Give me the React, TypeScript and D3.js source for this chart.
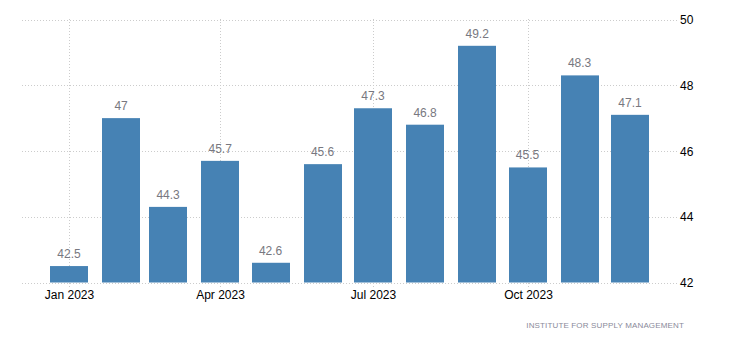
import { useRef, useEffect } from 'react';
import * as d3 from 'd3';

const months = [
  '2023-01-01', '2023-02-01', '2023-03-01', '2023-04-01', '2023-05-01', '2023-06-01',
  '2023-07-01', '2023-08-01', '2023-09-01', '2023-10-01', '2023-11-01', '2023-12-01',
];
const values = [42.5, 47, 44.3, 45.7, 42.6, 45.6, 47.3, 46.8, 49.2, 45.5, 48.3, 47.1];
const yTicks = [42, 44, 46, 48, 50];
const xTicks = ['2023-01-01', '2023-04-01', '2023-07-01', '2023-10-01'];
const source = 'INSTITUTE FOR SUPPLY MANAGEMENT';

const WIDTH = 730;
const HEIGHT = 351;
const BAR_W = 38;
const FONT = '"Liberation Sans", Arial, sans-serif';

export default function App() {
  const svgRef = useRef<SVGSVGElement>(null);

  useEffect(() => {
    const svg = d3.select(svgRef.current);
    svg.selectAll('*').remove();

    const parse = d3.utcParse('%Y-%m-%d');
    const x = d3
      .scaleUtc()
      .domain([parse('2022-12-04')!, parse('2023-12-29')!])
      .range([22, 677]);
    const y = d3.scaleLinear().domain([42, 50]).range([282.5, 19.5]);

    // Horizontal grid
    for (const t of yTicks) {
      svg
        .append('line')
        .attr('x1', 22)
        .attr('x2', 677)
        .attr('y1', Math.round(y(t)) + 0.5)
        .attr('y2', Math.round(y(t)) + 0.5)
        .attr('stroke', '#cccccc')
        .attr('stroke-dasharray', '1,2');
      svg
        .append('text')
        .attr('x', 680)
        .attr('y', y(t) + 4.5)
        .attr('font-family', FONT)
        .attr('font-size', 12)
        .attr('fill', '#000')
        .text(t);
    }

    // Vertical grid + tick labels
    for (const d of xTicks) {
      const px = Math.round(x(parse(d)!)) + 0.5;
      svg
        .append('line')
        .attr('x1', px)
        .attr('x2', px)
        .attr('y1', 19)
        .attr('y2', 288)
        .attr('stroke', '#cccccc')
        .attr('stroke-dasharray', '1,2');
      svg
        .append('text')
        .attr('x', px)
        .attr('y', 299)
        .attr('text-anchor', 'middle')
        .attr('font-family', FONT)
        .attr('font-size', 12)
        .attr('fill', '#000')
        .text(d3.utcFormat('%b %Y')(parse(d)!));
    }

    // Bars
    months.forEach((m, i) => {
      const cx = x(parse(m)!);
      const v = values[i];
      svg
        .append('rect')
        .attr('x', Math.round(cx - BAR_W / 2))
        .attr('y', y(v))
        .attr('width', BAR_W)
        .attr('height', y(42) - y(v))
        .attr('fill', '#4682b4');
      svg
        .append('text')
        .attr('x', cx)
        .attr('y', y(v) - 8)
        .attr('text-anchor', 'middle')
        .attr('font-family', FONT)
        .attr('font-size', 12)
        .attr('fill', '#787880')
        .text(v);
    });

    // Source
    svg
      .append('text')
      .attr('x', 684)
      .attr('y', 328)
      .attr('text-anchor', 'end')
      .attr('font-family', FONT)
      .attr('font-size', 8)
      .attr('letter-spacing', 0.15)
      .attr('fill', '#8a8a9a')
      .text(source);
  }, []);

  return (
    <svg
      ref={svgRef}
      width={WIDTH}
      height={HEIGHT}
      style={{ position: 'absolute', left: 0, top: 0, background: '#fff' }}
    />
  );
}
